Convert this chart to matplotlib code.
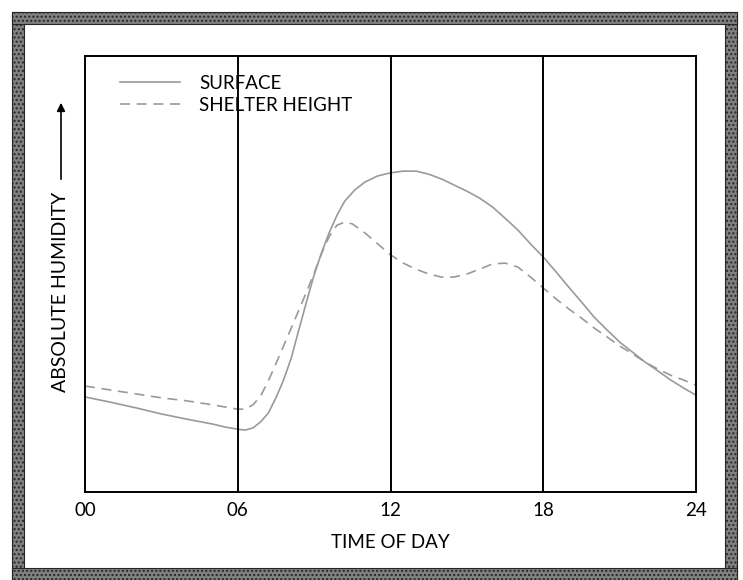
import numpy as np
import matplotlib
matplotlib.use("Agg")
import matplotlib.pyplot as plt
from matplotlib.patches import Rectangle, FancyArrowPatch

plt.rcParams['font.family'] = ['Lato', 'DejaVu Sans']

# hour of day and relative absolute-humidity level (arbitrary units, 0-10)
surface_hours = [0, 1, 2, 3, 4, 5, 5.5, 6, 6.3, 6.6, 6.9, 7.2, 7.5, 7.8, 8.1, 8.4, 8.7,
                 9.0, 9.3, 9.6, 9.9, 10.2, 10.6, 11.0, 11.5, 12.0, 12.5, 13.0, 13.5,
                 14.0, 14.5, 15.0, 15.5, 16.0, 16.5, 17.0, 17.5, 18.0, 18.5, 19.0,
                 19.5, 20.0, 20.5, 21.0, 21.5, 22.0, 22.5, 23.0, 23.5, 24.0]
surface = [2.18, 2.06, 1.93, 1.79, 1.67, 1.56, 1.49, 1.44, 1.42, 1.47, 1.61, 1.81, 2.16,
           2.57, 3.07, 3.72, 4.36, 4.98, 5.50, 5.96, 6.35, 6.67, 6.93, 7.11, 7.25, 7.32,
           7.36, 7.36, 7.29, 7.18, 7.04, 6.90, 6.74, 6.54, 6.28, 6.01, 5.69, 5.39, 5.05,
           4.70, 4.36, 4.01, 3.72, 3.44, 3.21, 2.98, 2.78, 2.57, 2.39, 2.22]

shelter_hours = [0, 1, 2, 3, 4, 5, 5.5, 6, 6.3, 6.6, 6.9, 7.2, 7.5, 7.8, 8.1, 8.4, 8.7,
                 9.0, 9.3, 9.6, 9.9, 10.2, 10.5, 11.0, 11.5, 12.0, 12.5, 13.0, 13.5,
                 14.0, 14.5, 15.0, 15.5, 16.0, 16.5, 17.0, 17.5, 18.0, 18.5, 19.0,
                 19.5, 20.0, 20.5, 21.0, 21.5, 22.0, 22.5, 23.0, 23.5, 24.0]
shelter = [2.43, 2.34, 2.25, 2.16, 2.09, 2.00, 1.95, 1.90, 1.90, 2.00, 2.20, 2.55, 2.94,
           3.35, 3.76, 4.17, 4.59, 5.02, 5.48, 5.87, 6.12, 6.19, 6.15, 5.94, 5.69, 5.44,
           5.25, 5.11, 5.00, 4.93, 4.93, 5.00, 5.11, 5.23, 5.25, 5.16, 4.93, 4.68, 4.43,
           4.20, 3.99, 3.76, 3.56, 3.35, 3.17, 2.98, 2.82, 2.68, 2.57, 2.45]

xticks = [0, 6, 12, 18, 24]
xtick_labels = ["00", "06", "12", "18", "24"]

W, H = 743, 580
fig = plt.figure(figsize=(W / 100, H / 100), dpi=100)
fig.patch.set_facecolor("white")

# stippled grey border round the page
band = 12
for x0, y0, w, h in [(12, 0, band, H - 12),            # left
                     (W - 6 - band, 0, band, H - 12),    # right
                     (12, H - 12 - band, W - 18, band),  # top
                     (12, 0, W - 18, band)]:            # bottom
    fig.patches.append(Rectangle((x0 / W, y0 / H), w / W, h / H,
                                 transform=fig.transFigure, facecolor="#808080",
                                 edgecolor="#262626", hatch="....", linewidth=0.8))

ax = fig.add_axes([85 / W, 88 / H, 611 / W, 436 / H])
ax.plot(surface_hours, surface, color="#9a9a9a", lw=1.2, label="SURFACE")
ax.plot(shelter_hours, shelter, color="#9a9a9a", lw=1.2, ls=(0, (6, 4)),
        label="SHELTER HEIGHT")

for h in xticks[1:-1]:
    ax.axvline(h, color="black", lw=1.4)

ax.set_xlim(0, 24)
ax.set_ylim(0, 10)
ax.set_xticks(xticks)
ax.set_xticklabels(xtick_labels)
ax.set_yticks([])
ax.tick_params(axis="x", length=0, pad=7, labelsize=13.5)
for s in ax.spines.values():
    s.set_linewidth(1.4)
ax.set_xlabel("TIME OF DAY", fontsize=13.5, labelpad=11)

ax.legend(loc="upper left", bbox_to_anchor=(0.03, 0.995), frameon=False,
          fontsize=13.5, handlelength=3.2, handletextpad=1.0, labelspacing=0.25)

# y label with an upward arrow above it
fig.text(61 / W, 1 - 292 / H, "ABSOLUTE HUMIDITY", rotation=90, fontsize=14,
         ha="center", va="center")
fig.patches.append(FancyArrowPatch(
    (61 / W, 1 - 182 / H), (61 / W, 1 - 100 / H), transform=fig.transFigure,
    arrowstyle="-|>", mutation_scale=12, color="black", lw=1.2))

fig.savefig("out.png", dpi=100)
